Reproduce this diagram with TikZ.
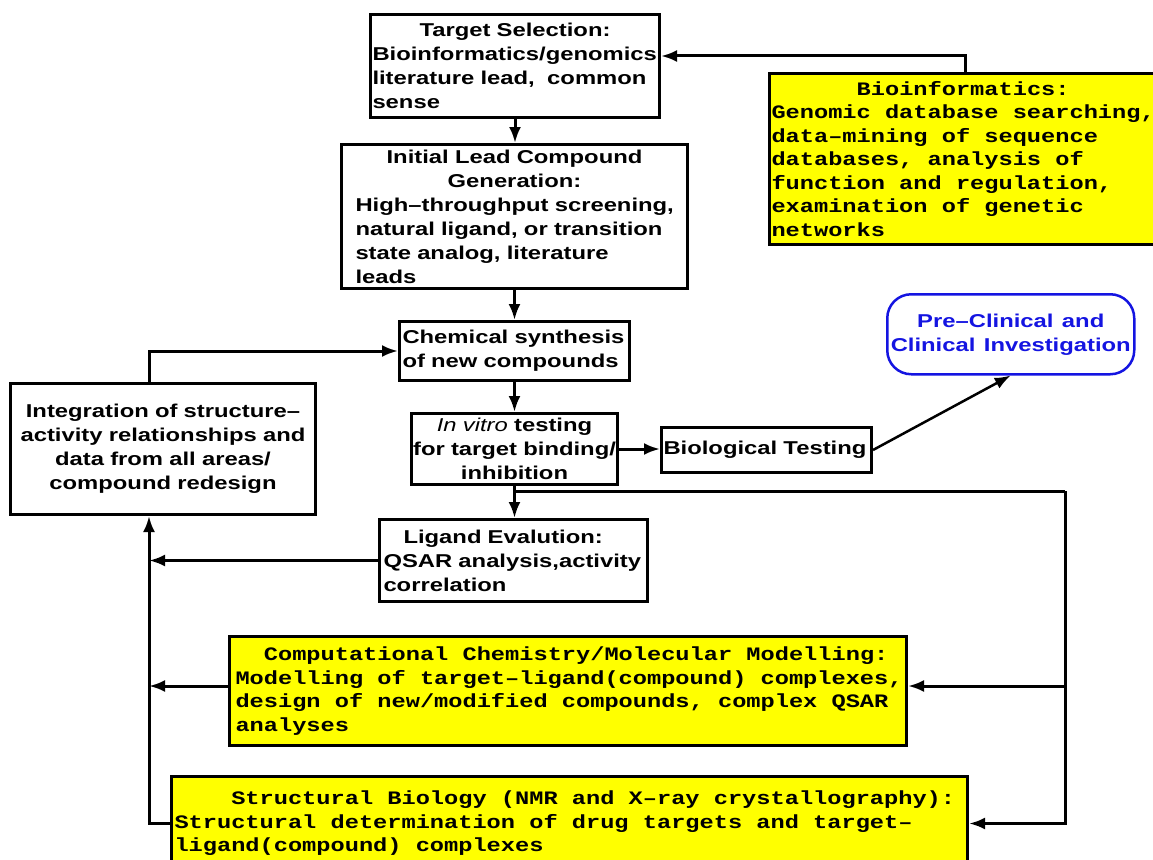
\documentclass[tikz,border=0pt]{standalone}
\usepackage{fontspec}
\setmainfont{Liberation Sans}
\newfontfamily\hv{Liberation Sans}[FakeStretch=1.28,WordSpace=1.28]
\newfontfamily\monof{Liberation Mono}[FakeStretch=1.245]
\usetikzlibrary{arrows.meta}
\definecolor{boxyellow}{RGB}{255,255,0}
\definecolor{pcblue}{RGB}{20,20,225}
\newcommand{\ml}[1]{\mbox{#1}}
\newcommand{\cl}[1]{\hspace*{\fill}\mbox{#1}\hspace*{\fill}\null}
% monospaced line: every space becomes exactly one character cell
\def\mspA#1 #2\mspEnd{#1\ifx\relax#2\relax\else\hphantom{x}\mspA#2\mspEnd\fi}
\newcommand{\mm}[1]{\mbox{\mspA#1 \mspEnd}}
\begin{document}
\begin{tikzpicture}[x=1pt,y=-1pt,
  blk/.style={draw=black, line width=3pt, fill=white, anchor=north west, inner ysep=0pt,
    font=\hv\bfseries\fontsize{18.6}{24}\selectfont, align=left},
  ylw/.style={draw=black, line width=3pt, fill=boxyellow, anchor=north west, inner ysep=0pt,
    font=\monof\bfseries\fontsize{19}{23.5}\selectfont, align=left},
  arr/.style={line width=3pt, -{Latex[length=16pt,width=12pt]}},
  ln/.style={line width=3pt},
]
\useasboundingbox (0,0) rectangle (1153,859);
\clip (0,0) rectangle (1153,859);

% black boxes
\node[blk, inner xsep=2pt, text width=285pt, minimum height=103pt] (ts) at (369,13)
  {\cl{Target Selection:}\\\ml{Bioinformatics/genomics}\\\ml{literature lead,\ \ common}\\\ml{sense}};
\node[blk, inner xsep=14pt, text width=318pt, minimum height=144pt] (il) at (340,143)
  {\cl{Initial Lead Compound}\\\cl{Generation:}\\\ml{High–throughput screening,}\\\ml{natural ligand, or transition}\\\ml{state analog, literature}\\\ml{leads}};
\node[blk, inner xsep=3pt, text width=224pt, minimum height=59pt] (cs) at (398,320)
  {\ml{Chemical synthesis}\\\ml{of new compounds}};
\node[blk, align=center, inner xsep=1pt, text width=204pt, minimum height=71pt] (iv) at (410,412)
  {\ml{{\mdseries\itshape In vitro} testing}\\\ml{for target binding/}\\\ml{inhibition}};
\node[blk, inner xsep=2pt, text width=206pt, minimum height=45pt] (bt) at (660,426)
  {\ml{Biological Testing}};
\node[draw=pcblue, line width=2.5pt, rounded corners=24pt, anchor=north west, minimum width=247pt,
  minimum height=80pt, inner sep=0pt, align=center, text=pcblue,
  font=\hv\bfseries\fontsize{18.6}{24}\selectfont] (pc) at (886,293)
  {Pre–Clinical and\\Clinical Investigation};
\node[blk, align=center, inner xsep=2pt, text width=301pt, minimum height=131pt] (ig) at (9,382)
  {\ml{Integration of structure–}\\\ml{activity relationships and}\\\ml{data from all areas/}\\\ml{compound redesign}};
\node[blk, inner xsep=4pt, text width=260pt, minimum height=82pt] (le) at (378,518)
  {\hspace*{20pt}\ml{Ligand Evalution:}\\\ml{QSAR analysis,activity}\\\ml{correlation}};

% yellow boxes
\node[ylw, inner xsep=6pt, text width=665pt, minimum height=109pt] (cc) at (228,635)
  {\hphantom{xx}\mm{Computational Chemistry/Molecular Modelling:}\\\mm{Modelling of target–ligand(compound) complexes,}\\\mm{design of new/modified compounds, complex QSAR}\\\mm{analyses}};
\node[ylw, inner xsep=3pt, text width=790pt, minimum height=94pt] (sb) at (170,775)
  {\hphantom{xxxx}\mm{Structural Biology (NMR and X–ray crystallography):}\\\mm{Structural determination of drug targets and target–}\\\mm{ligand(compound) complexes}};
\node[ylw, inner xsep=2pt, text width=388pt, minimum height=171pt] (bi) at (768,72)
  {\hphantom{xxxxxx}\mm{Bioinformatics:}\\\mm{Genomic database searching,}\\\mm{data–mining of sequence}\\\mm{databases, analysis of}\\\mm{function and regulation,}\\\mm{examination of genetic}\\\mm{networks}};

% helper coordinates
\coordinate (j) at (513,491);
\coordinate (r1) at (1065,491);
\coordinate (lv) at (149,818);
\coordinate (tsin) at ([yshift=10pt]ts.east);
\coordinate (ccin) at ([yshift=5pt]cc.east);
\coordinate (ccout) at ([yshift=5pt]cc.west);

% connectors
\draw[arr] (bi.north) |- (tsin);
\draw[arr] (ts.south) -- (ts.south |- il.north);
\draw[arr] (il.south) -- (il.south |- cs.north);
\draw[arr] (cs.south) -- (cs.south |- iv.north);
\draw[arr] (iv.south) -- (iv.south |- le.north);
\draw[arr] (iv.east) -- (iv.east -| bt.west);
\draw[arr, line width=2.5pt] (bt.east) -- (pc.south);
\draw[ln] (j) -- (r1);
\draw[arr] (r1) |- (sb.east);
\draw[arr] (ccin -| r1) -- (ccin);
\draw[arr] (le.west) -- (le.west -| lv);
\draw[arr] (ccout) -- (ccout -| lv);
\draw[arr] (sb.west) -| (ig.south -| lv);
\draw[arr] (ig.north -| lv) |- (cs.west);
\end{tikzpicture}
\end{document}
